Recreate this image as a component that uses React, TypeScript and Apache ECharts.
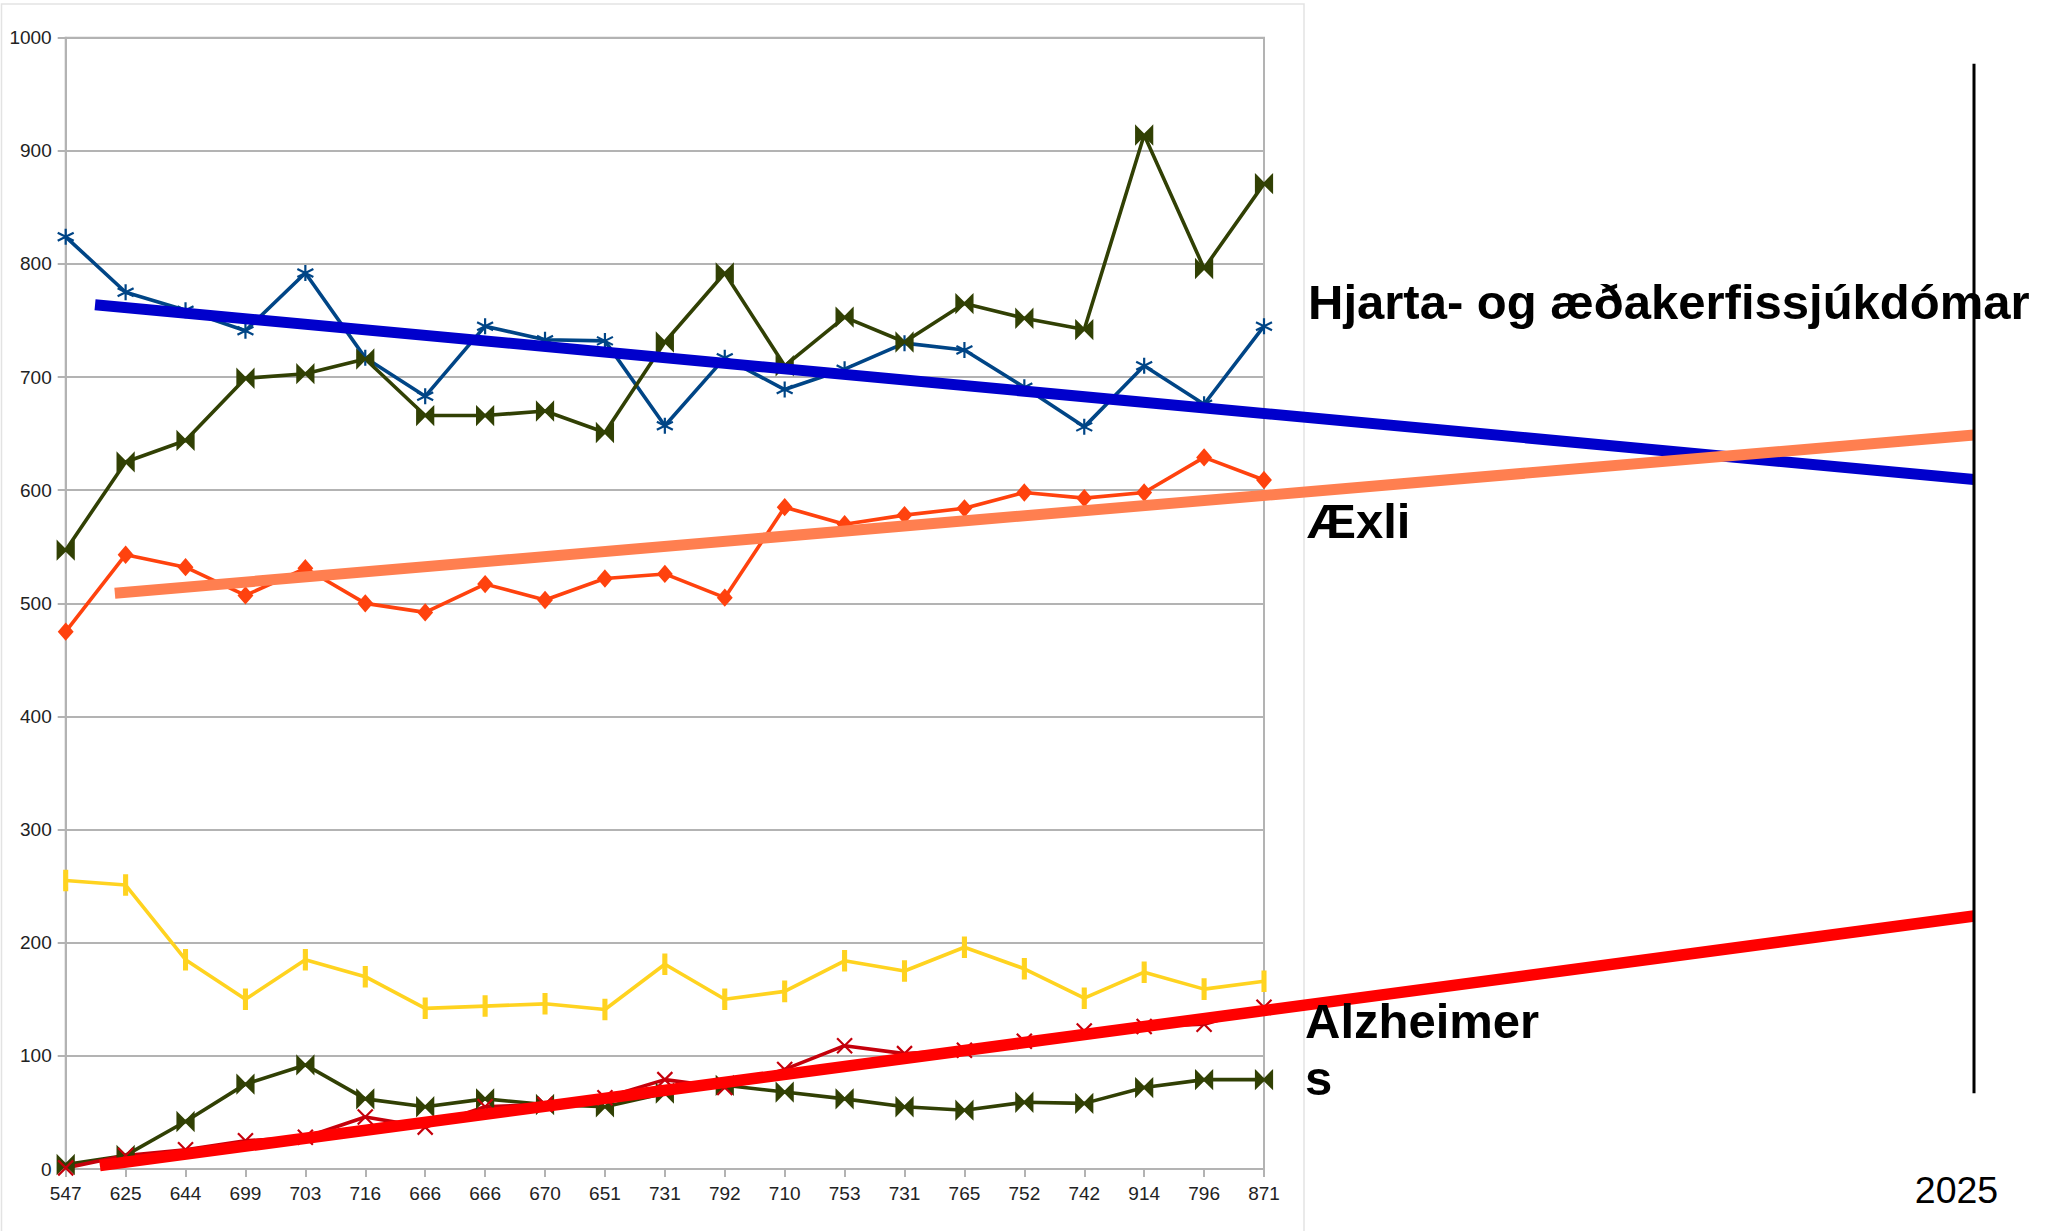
import React, { useEffect, useRef } from "react";
import * as echarts from "echarts";

// Category labels (x axis)
const categories = ["547","625","644","699","703","716","666","666","670","651","731","792","710","753","731","765","752","742","914","796","871"];

// Series values
const heartTop = [547,625,644,699,703,716,666,666,670,651,731,792,710,753,731,765,752,742,914,796,871];
const blueSeries = [824,775,759,741,792,717,683,745,733,732,657,717,689,707,730,724,691,656,710,676,745];
const tumourSeries = [475,543,532,507,531,500,492,517,503,522,526,505,585,570,578,584,598,593,598,629,609];
const yellowSeries = [255,251,185,150,185,170,142,144,146,141,181,150,157,184,175,196,177,151,174,159,166];
const oliveLow = [4,12,42,75,92,62,55,62,57,55,67,74,68,62,55,52,59,58,72,79,79];
const alzSeries = [1,12,17,25,28,46,37,55,57,63,79,72,88,109,102,105,113,122,126,128,143];

// Trend lines: [category index, value]
const trendEndIndex = 31.85;
const trendHeart = [[0.49, 764], [trendEndIndex, 609.5]];
const trendTumour = [[0.82, 509], [trendEndIndex, 648.8]];
const trendAlz = [[0.57, 3], [trendEndIndex, 223.6]];
const markerLine = [[trendEndIndex, 67], [trendEndIndex, 977]];

const yTicks = { min: 0, max: 1000, interval: 100 };

const ASTERISK = "path://M10,0 L10,20 M1.34,5 L18.66,15 M1.34,15 L18.66,5";
const BOWTIE = "path://M0,0 L10,10 L0,20 Z M20,0 L10,10 L20,20 Z";
const XMARK = "path://M0,0 L20,20 M0,20 L20,0";

const GRID_LEFT = 65.7;
const GRID_TOP = 37.7;
const GRID_H = 1131.3;

function dataLine(name: string, data: number[], color: string, symbol: string, size: any) {
  return {
    name,
    type: "line",
    xAxisIndex: 0,
    yAxisIndex: 0,
    data,
    symbol,
    symbolSize: size,
    showSymbol: true,
    lineStyle: { color, width: 3.6 },
    itemStyle: { color, borderColor: color, borderWidth: 2.2 },
    z: 3,
  };
}

function trendLine(name: string, data: number[][], color: string, width: number) {
  return {
    name,
    type: "line",
    xAxisIndex: 1,
    yAxisIndex: 1,
    data,
    symbol: "none",
    lineStyle: { color, width, cap: "butt" },
    z: 5,
  };
}

export default function App() {
  const ref = useRef<HTMLDivElement>(null);
  useEffect(() => {
    if (!ref.current) return;
    const chart = echarts.init(ref.current, undefined, { renderer: "svg" });
    const axisGray = "#b3b3b3";
    const font = "'Liberation Sans', Arial, sans-serif";
    chart.setOption({
      animation: false,
      backgroundColor: "#ffffff",
      grid: [
        {
          left: GRID_LEFT,
          top: GRID_TOP,
          width: 1264 - GRID_LEFT,
          height: GRID_H,
          show: true,
          borderColor: axisGray,
          borderWidth: 2,
        },
        {
          left: GRID_LEFT,
          top: GRID_TOP,
          width: 1974 - GRID_LEFT,
          height: GRID_H,
          show: false,
        },
      ],
      xAxis: [
        {
          type: "category",
          gridIndex: 0,
          data: categories,
          boundaryGap: false,
          axisLine: { lineStyle: { color: axisGray, width: 2 } },
          axisTick: { show: true, length: 8, lineStyle: { color: axisGray, width: 2 } },
          axisLabel: { interval: 0, fontSize: 19, color: "#222", margin: 15, fontFamily: font },
          splitLine: { show: false },
        },
        {
          type: "value",
          gridIndex: 1,
          min: 0,
          max: trendEndIndex,
          show: false,
        },
      ],
      yAxis: [
        {
          type: "value",
          gridIndex: 0,
          min: yTicks.min,
          max: yTicks.max,
          interval: yTicks.interval,
          axisLine: { show: true, lineStyle: { color: axisGray, width: 2 } },
          axisTick: { show: true, length: 8, lineStyle: { color: axisGray, width: 2 } },
          axisLabel: { fontSize: 19, color: "#222", margin: 14, fontFamily: font, formatter: (v: number) => String(v) },
          splitLine: { show: true, lineStyle: { color: axisGray, width: 2 } },
        },
        {
          type: "value",
          gridIndex: 1,
          min: yTicks.min,
          max: yTicks.max,
          show: false,
        },
      ],
      series: [
        dataLine("Blue", blueSeries, "#004586", ASTERISK, 16),
        dataLine("Hjarta", heartTop, "#314004", BOWTIE, 16),
        dataLine("Æxli", tumourSeries, "#ff420e", "diamond", [13, 15]),
        dataLine("Yellow", yellowSeries, "#ffd320", "rect", [4, 17]),
        dataLine("OliveLow", oliveLow, "#314004", BOWTIE, 16),
        dataLine("Alzheimers", alzSeries, "#c5000b", XMARK, 15),
        trendLine("TrendHeart", trendHeart, "#0000cc", 11),
        trendLine("TrendTumour", trendTumour, "#ff7f50", 11),
        trendLine("TrendAlz", trendAlz, "#ff0000", 11.5),
        {
          name: "Marker2025",
          type: "line",
          xAxisIndex: 1,
          yAxisIndex: 1,
          data: markerLine,
          symbol: "none",
          lineStyle: { color: "#000000", width: 3 },
          z: 6,
        },
      ],
      graphic: [
        {
          type: "rect",
          shape: { x: 1.5, y: 4, width: 1302.5, height: 1260 },
          style: { fill: "none", stroke: "#e3e3e3", lineWidth: 1.5 },
          silent: true,
          z: 0,
        },
        {
          type: "text",
          x: 1308,
          y: 301.5,
          style: { text: "Hjarta- og æðakerfissjúkdómar", fontSize: 49, fontWeight: "bold", fontFamily: font, fill: "#000", align: "left", verticalAlign: "middle" },
          z: 10,
        },
        {
          type: "text",
          x: 1307,
          y: 521,
          style: { text: "Æxli", fontSize: 49, fontWeight: "bold", fontFamily: font, fill: "#000", align: "left", verticalAlign: "middle" },
          z: 10,
        },
        {
          type: "text",
          x: 1305,
          y: 1021,
          style: { text: "Alzheimer", fontSize: 49, fontWeight: "bold", fontFamily: font, fill: "#000", align: "left", verticalAlign: "middle" },
          z: 10,
        },
        {
          type: "text",
          x: 1305,
          y: 1078,
          style: { text: "s", fontSize: 49, fontWeight: "bold", fontFamily: font, fill: "#000", align: "left", verticalAlign: "middle" },
          z: 10,
        },
        {
          type: "text",
          x: 1956.5,
          y: 1189.5,
          style: { text: "2025", fontSize: 37.5, fontFamily: font, fill: "#000", align: "center", verticalAlign: "middle" },
          z: 10,
        },
      ],
    });
    return () => chart.dispose();
  }, []);
  return (
    <div
      ref={ref}
      style={{ position: "absolute", left: 0, top: 0, width: 2045, height: 1231 }}
    />
  );
}
